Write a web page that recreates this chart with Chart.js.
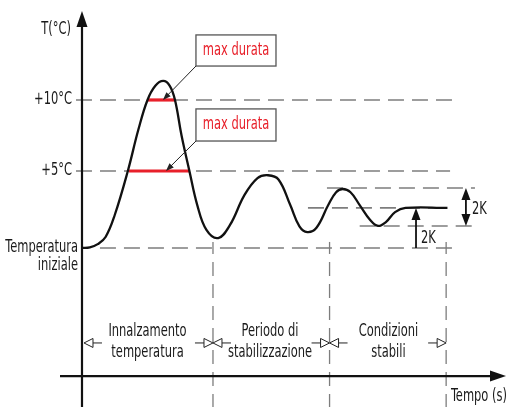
<!DOCTYPE html>
<html>
<head>
<meta charset="utf-8">
<script src="https://cdn.jsdelivr.net/npm/chart.js@4.4.0/dist/chart.umd.min.js"></script>
<style>
  body { margin: 0; background: #fff; }
  #wrap { width: 506px; height: 407px; }
</style>
</head>
<body>
<div id="wrap"><canvas id="myChart" width="506" height="407"></canvas></div>
<script>
// temperature profile, time in s, temperature in °C
var timeS  = [0, 6, 12, 18, 25, 35, 43, 50, 56, 62, 67, 71, 76, 82, 88, 95, 104, 113, 124, 134, 142, 150, 159, 166, 172, 179, 188, 194, 199, 205, 212, 220, 226, 232, 239, 247, 279];
var tempC  = [-0.42, -0.38, -0.15, 0.35, 1.9, 5.0, 7.9, 10.0, 11.0, 11.34, 11.0, 10.0, 7.5, 5.0, 2.6, 0.85, 0.28, 1.2, 3.3, 4.5, 4.7, 4.4, 2.6, 1.1, 0.7, 1.0, 2.6, 3.5, 3.73, 3.5, 2.6, 1.55, 1.13, 1.4, 2.1, 2.4, 2.4];

var levelTemps  = [10, 5];
var levelLabels = ['+10°C', '+5°C'];
var initialTemp = -0.42;
var stableTemp  = 2.4;
var bandHigh    = 3.8;
var bandLow     = 1.13;

// max durata: time above each level
var holdStart = [50.4, 35.9];
var holdEnd   = [71.0, 82.4];

var phaseEnds   = [0, 100, 189, 278];
var phaseLabels = [['Innalzamento', 'temperatura'], ['Periodo di', 'stabilizzazione'], ['Condizioni', 'stabili']];

var FONT = "'DejaVu Sans Condensed', 'DejaVu Sans', sans-serif";
var SQUEEZE = 0.75;
var GRAY = '#7d7d7d';
var RED = '#e8202a';

function dashed(x1, x2, y) {
  return {
    data: [{x: x1, y: y}, {x: x2, y: y}],
    borderColor: GRAY, borderWidth: 1.6, borderDash: [16, 8],
    pointRadius: 0, order: 3
  };
}

var datasets = [
  dashed(-4.6, 288.5, levelTemps[0]),
  dashed(-4.6, 281, levelTemps[1]),
  dashed(13.7, 288.5, initialTemp),
  dashed(187, 300, bandHigh),
  dashed(172.5, 279.4, stableTemp),
  dashed(212, 300, bandLow),
  {
    data: timeS.map(function (t, i) { return {x: t, y: tempC[i]}; }),
    borderColor: '#111', borderWidth: 2.3, pointRadius: 0,
    tension: 0.4, order: 1
  }
];
holdStart.forEach(function (s, i) {
  datasets.push({
    data: [{x: s, y: levelTemps[i]}, {x: holdEnd[i], y: levelTemps[i]}],
    borderColor: RED, borderWidth: 3.2, pointRadius: 0, order: 2
  });
});

function arrowHead(ctx, x, y, dx, dy, len, half, fill) {
  // tip at x,y pointing along (dx,dy)
  var px = -dy, py = dx;
  ctx.beginPath();
  ctx.moveTo(x, y);
  ctx.lineTo(x - dx * len + px * half, y - dy * len + py * half);
  ctx.lineTo(x - dx * len - px * half, y - dy * len - py * half);
  ctx.closePath();
  if (fill) { ctx.fill(); } else { ctx.fillStyle = '#fff'; ctx.fill(); ctx.stroke(); }
}

// narrow text, like the condensed face of the original
function text(ctx, s, x, y, align) {
  ctx.save();
  ctx.translate(x, y);
  ctx.scale(SQUEEZE, 1);
  ctx.textAlign = align;
  ctx.fillText(s, 0, 0);
  ctx.restore();
}

var drawing = {
  id: 'drawing',
  afterDraw: function (chart) {
    var ctx = chart.ctx;
    var xs = chart.scales.x, ys = chart.scales.y;
    var X = function (v) { return xs.getPixelForValue(v); };
    var Y = function (v) { return ys.getPixelForValue(v); };
    ctx.save();

    // phase dividers, with a small solid tick on the start line
    ctx.strokeStyle = GRAY; ctx.lineWidth = 1.3;
    phaseEnds.slice(1).forEach(function (t) {
      ctx.setLineDash([]);
      ctx.beginPath(); ctx.moveTo(X(t), Y(initialTemp) - 6); ctx.lineTo(X(t), Y(initialTemp) + 6); ctx.stroke();
      ctx.setLineDash([14, 8]);
      ctx.beginPath(); ctx.moveTo(X(t), Y(initialTemp) + 14); ctx.lineTo(X(t), 407); ctx.stroke();
    });
    ctx.setLineDash([]);

    // axes
    ctx.strokeStyle = '#111'; ctx.fillStyle = '#111'; ctx.lineWidth = 2.2;
    var x0 = X(0), yAx = Y(-9.44);
    ctx.beginPath(); ctx.moveTo(x0, 407); ctx.lineTo(x0, 24); ctx.stroke();
    arrowHead(ctx, x0, 11, 0, -1, 16, 5.5, true);
    ctx.beginPath(); ctx.moveTo(60, yAx); ctx.lineTo(492, yAx); ctx.stroke();
    arrowHead(ctx, 506, yAx, 1, 0, 16, 5.5, true);

    // phase arrows
    ctx.lineWidth = 1; ctx.strokeStyle = '#222';
    var ay = Y(-7.11);
    for (var i = 0; i < 3; i++) {
      var a = X(phaseEnds[i]) + (i === 0 ? 2 : 0), b = X(phaseEnds[i + 1]);
      ctx.beginPath(); ctx.moveTo(a + 9, ay); ctx.lineTo(a + 18, ay); ctx.stroke();
      arrowHead(ctx, a, ay, -1, 0, 9, 4.5, false);
      ctx.beginPath(); ctx.moveTo(b - 9, ay); ctx.lineTo(b - 18, ay); ctx.stroke();
      arrowHead(ctx, b, ay, 1, 0, 9, 4.5, false);
    }

    // texts
    ctx.fillStyle = '#1a1a1a';
    ctx.font = '17px ' + FONT;
    ctx.textBaseline = 'middle';
    var centers = [147.5, 270, 388.5];
    phaseLabels.forEach(function (l, i) {
      text(ctx, l[0], centers[i], Y(-6.34), 'center');
      text(ctx, l[1], centers[i], Y(-7.82), 'center');
    });
    text(ctx, 'T(°C)', 71, 30, 'right');
    levelTemps.forEach(function (v, i) { text(ctx, levelLabels[i], 72, Y(v), 'right'); });
    text(ctx, 'Temperatura', 78, Y(initialTemp), 'right');
    text(ctx, 'iniziale', 78, Y(initialTemp) + 18, 'right');
    text(ctx, 'Tempo (s)', 451, 397, 'left');

    // 2K arrows
    ctx.strokeStyle = '#111'; ctx.fillStyle = '#111'; ctx.lineWidth = 1.8;
    var kx = X(293.1);
    ctx.beginPath(); ctx.moveTo(kx, Y(bandHigh) + 10); ctx.lineTo(kx, Y(bandLow) - 10); ctx.stroke();
    arrowHead(ctx, kx, Y(bandHigh), 0, -1, 12, 4.5, true);
    arrowHead(ctx, kx, Y(bandLow), 0, 1, 12, 4.5, true);
    var sx = X(255);
    ctx.beginPath(); ctx.moveTo(sx, Y(initialTemp)); ctx.lineTo(sx, Y(stableTemp) + 10); ctx.stroke();
    arrowHead(ctx, sx, Y(stableTemp), 0, -1, 12, 4.5, true);
    ctx.fillStyle = '#1a1a1a';
    text(ctx, '2K', kx + 6, Y(stableTemp) + 2, 'left');
    text(ctx, '2K', sx + 5, Y(initialTemp) - 9, 'left');

    // max durata callouts
    var boxTop = [14.58, 9.37], boxBot = [12.39, 7.11];
    var tipX = [61.8, 64.1];
    for (var j = 0; j < 2; j++) {
      var bx1 = X(87), bx2 = X(148.1), by1 = Y(boxTop[j]), by2 = Y(boxBot[j]);
      ctx.fillStyle = '#fff'; ctx.strokeStyle = '#555'; ctx.lineWidth = 1.3;
      ctx.fillRect(bx1, by1, bx2 - bx1, by2 - by1);
      ctx.strokeRect(bx1, by1, bx2 - bx1, by2 - by1);
      ctx.fillStyle = RED;
      text(ctx, 'max durata', (bx1 + bx2) / 2, (by1 + by2) / 2, 'center');
      var tx = X(tipX[j]), ty = Y(levelTemps[j]);
      var dx = tx - bx1, dy = ty - by2, len = Math.sqrt(dx * dx + dy * dy);
      ctx.strokeStyle = '#222'; ctx.fillStyle = '#222'; ctx.lineWidth = 1;
      ctx.beginPath(); ctx.moveTo(bx1, by2); ctx.lineTo(tx - dx / len * 6, ty - dy / len * 6); ctx.stroke();
      arrowHead(ctx, tx, ty, dx / len, dy / len, 8, 3, true);
    }
    ctx.restore();
  }
};

var ctx = document.getElementById('myChart').getContext('2d');
var mychart = new Chart(ctx, {
  type: 'line',
  data: { datasets: datasets },
  options: {
    responsive: false,
    animation: false,
    layout: { padding: 0 },
    scales: {
      x: { type: 'linear', display: false, min: -62.6, max: 323.7 },
      y: { type: 'linear', display: false, min: -11.62, max: 17.04 }
    },
    plugins: { legend: { display: false }, tooltip: { enabled: false } }
  },
  plugins: [drawing]
});
</script>
</body>
</html>
